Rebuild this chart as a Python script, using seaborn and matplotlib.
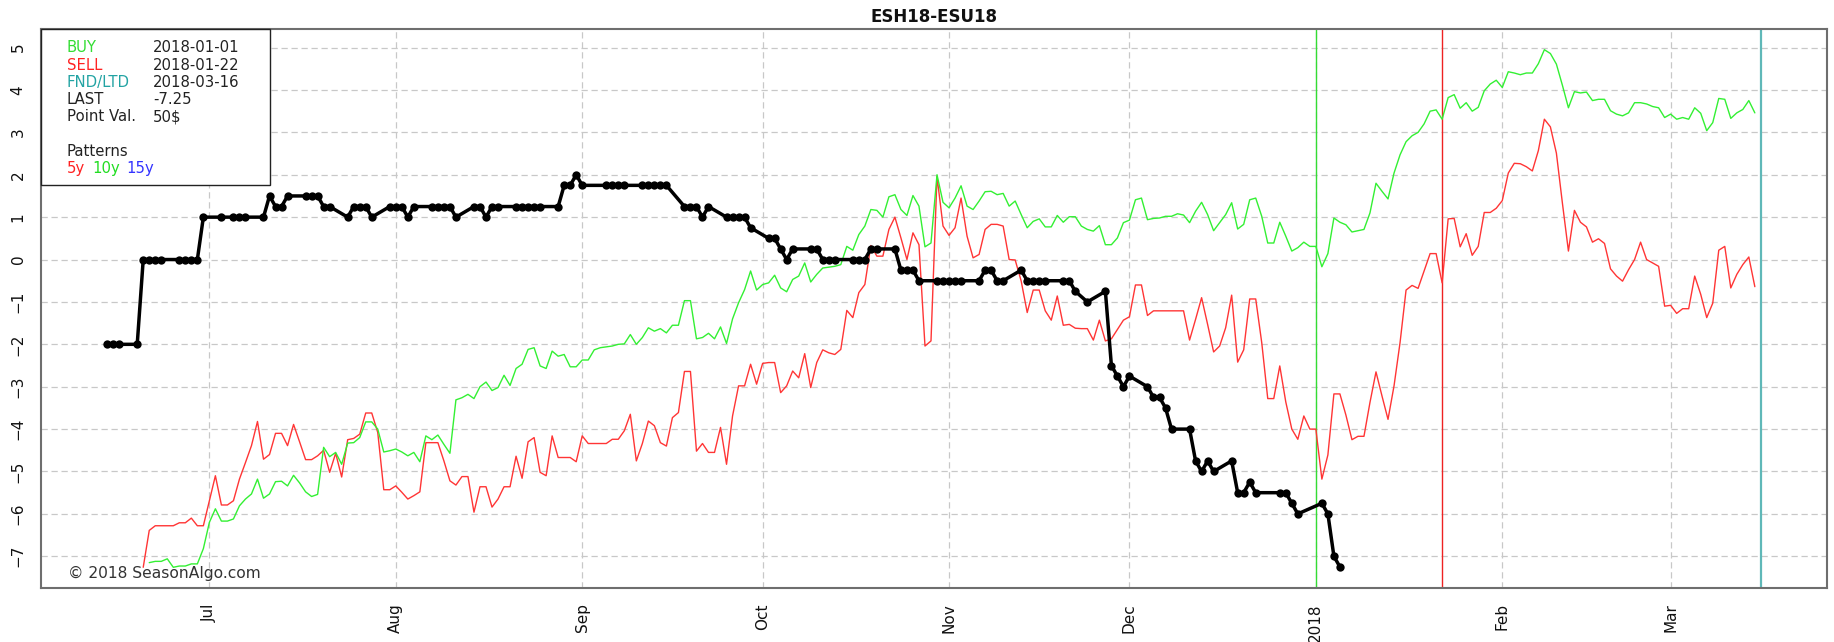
import numpy as np
import pandas as pd
import matplotlib
matplotlib.use("Agg")
import matplotlib.pyplot as plt
import matplotlib.dates as mdates
from matplotlib.patches import Rectangle
import seaborn as sns

# --- data ---
# actual spread ESH18-ESU18, one value per trading day from 2017-06-14
spread_start = "2017-06-14"
spread_end = "2018-01-05"
holidays = ["2017-07-04", "2017-09-04", "2017-11-23", "2017-12-25", "2018-01-01"]
spread = [
    -2, -2, -2, -2, 0, 0, 0, 0, 0, 0, 0, 0, 1,
    1, 1, 1, 1, 1, 1.5, 1.25, 1.25, 1.5, 1.5, 1.5, 1.5, 1.25, 1.25, 1.0, 1.25, 1.25, 1.25, 1.0, 1.25,
    1.25, 1.25, 1.0, 1.25, 1.25, 1.25, 1.25, 1.25, 1.0, 1.25, 1.25, 1.0, 1.25, 1.25,
    1.25, 1.25, 1.25, 1.25, 1.25, 1.25, 1.75, 1.75, 2.0,
    1.75, 1.75, 1.75, 1.75, 1.75, 1.75, 1.75, 1.75, 1.75, 1.75,
    1.25, 1.25, 1.25, 1.0, 1.25, 1.0, 1.0, 1.0, 1.0, 0.75,
    0.5, 0.5, 0.25, 0.0, 0.25, 0.25, 0.25, 0.0, 0.0, 0.0, 0.0, 0.0, 0.0, 0.25, 0.25,
    0.25, -0.25, -0.25, -0.25, -0.5, -0.5, -0.5,
    -0.5, -0.5, -0.5, -0.5, -0.25, -0.25, -0.5, -0.5, -0.25, -0.5, -0.5, -0.5, -0.5,
    -0.5, -0.5, -0.75, -1.0, -0.75, -2.5, -2.75, -3.0,
    -2.75, -3.0, -3.25, -3.25, -3.5, -4.0, -4.0, -4.75, -5.0, -4.75, -5.0,
    -4.75, -5.5, -5.5, -5.25, -5.5, -5.5, -5.5, -5.75, -6.0,
    -5.75, -6.0, -7.0, -7.25,
]

# 5y seasonal pattern, daily from 2017-06-20
p5_start = "2017-06-20"
pattern_5y = [
    -7.26, -6.39, -6.28, -6.28, -6.28, -6.28, -6.21, -6.21, -6.10, -6.28, -6.28,
    -5.69, -5.10, -5.79, -5.79, -5.69, -5.18, -4.79, -4.39, -3.82, -4.71,
    -4.60, -4.10, -4.10, -4.39, -3.89, -4.30, -4.72, -4.72, -4.63, -4.50,
    -5.02, -4.57, -5.13, -4.25, -4.22, -4.12, -3.62, -3.62, -4.08, -5.43,
    -5.43, -5.34, -5.49, -5.65, -5.57, -5.48, -4.32, -4.32, -4.32, -4.75,
    -5.22, -5.32, -5.12, -5.12, -5.96, -5.36, -5.36, -5.84, -5.65, -5.36,
    -5.36, -4.64, -5.16, -4.30, -4.20, -5.02, -5.10, -4.16, -4.67, -4.67,
    -4.67, -4.77, -4.16, -4.34, -4.34, -4.34, -4.34, -4.24, -4.24, -4.04,
    -3.65, -4.75, -4.34, -3.81, -3.92, -4.32, -4.40, -3.73, -3.61, -2.64,
    -2.64, -4.52, -4.34, -4.55, -4.55, -3.96, -4.83, -3.69, -2.98, -2.98,
    -2.47, -2.94, -2.45, -2.43, -2.43, -3.14, -2.98, -2.63, -2.79, -2.22,
    -3.02, -2.43, -2.13, -2.20, -2.24, -2.12, -1.20, -1.37, -0.78, -0.59,
    0.33, 0.08, 0.08, 0.71, 1.00, 0.51, 0.00, 0.63, 0.35, -2.04,
    -1.92, 1.96, 0.79, 0.57, 0.75, 1.45, 0.55, 0.04, 0.12, 0.71,
    0.83, 0.83, 0.79, 0.00, -0.01, -0.51, -1.25, -0.72, -0.72, -1.21,
    -1.43, -0.86, -1.55, -1.53, -1.62, -1.63, -1.63, -1.90, -1.43, -1.92,
    -1.87, -1.65, -1.43, -1.35, -0.60, -0.60, -1.32, -1.21, -1.21, -1.21,
    -1.21, -1.21, -1.21, -1.90, -1.41, -0.90, -1.53, -2.18, -2.04, -1.61,
    -0.84, -2.42, -2.13, -0.93, -0.93, -1.96, -3.28, -3.28, -2.51, -3.36,
    -4.00, -4.24, -3.69, -4.00, -4.00, -5.18, -4.61, -3.17, -3.17, -3.67,
    -4.25, -4.17, -4.17, -3.37, -2.65, -3.22, -3.77, -2.98, -1.96, -0.72,
    -0.61, -0.68, -0.27, 0.14, 0.14, -0.55, 0.96, 0.97, 0.30, 0.61,
    0.10, 0.31, 1.11, 1.11, 1.21, 1.39, 2.04, 2.27, 2.26, 2.19,
    2.09, 2.57, 3.31, 3.13, 2.51, 1.33, 0.20, 1.16, 0.88, 0.77,
    0.41, 0.49, 0.38, -0.22, -0.39, -0.51, -0.24, 0.00, 0.41, 0.00,
    -0.08, -0.16, -1.10, -1.08, -1.27, -1.16, -1.16, -0.39, -0.82, -1.37,
    -1.03, 0.22, 0.31, -0.67, -0.35, -0.12, 0.06, -0.64,
]

# 10y seasonal pattern, daily from 2017-06-21
p10_start = "2017-06-21"
pattern_10y = [
    -7.15, -7.12, -7.12, -7.06, -7.26, -7.23, -7.23, -7.18, -7.18, -6.82,
    -6.20, -5.88, -6.17, -6.17, -6.12, -5.81, -5.65, -5.53, -5.18, -5.63,
    -5.53, -5.24, -5.23, -5.34, -5.09, -5.27, -5.48, -5.59, -5.54, -4.43,
    -4.65, -4.55, -4.83, -4.33, -4.32, -4.20, -3.83, -3.83, -4.00, -4.54,
    -4.51, -4.47, -4.54, -4.63, -4.55, -4.77, -4.16, -4.25, -4.14, -4.36,
    -4.57, -3.31, -3.26, -3.18, -3.28, -3.00, -2.89, -3.09, -3.02, -2.73,
    -2.97, -2.57, -2.47, -2.12, -2.08, -2.51, -2.57, -2.16, -2.28, -2.24,
    -2.53, -2.53, -2.37, -2.37, -2.13, -2.08, -2.06, -2.04, -2.00, -1.99,
    -1.77, -2.00, -1.84, -1.61, -1.69, -1.63, -1.73, -1.55, -1.55, -0.97,
    -0.97, -1.87, -1.84, -1.74, -1.87, -1.59, -1.98, -1.40, -1.02, -0.71,
    -0.27, -0.72, -0.59, -0.55, -0.37, -0.67, -0.76, -0.47, -0.39, -0.08,
    -0.53, -0.35, -0.20, -0.18, -0.16, -0.12, 0.31, 0.22, 0.59, 0.79,
    1.18, 1.16, 1.00, 1.48, 1.53, 1.18, 1.04, 1.51, 1.26, 0.30,
    0.39, 2.00, 1.35, 1.22, 1.45, 1.74, 1.26, 1.18, 1.38, 1.60,
    1.61, 1.53, 1.56, 1.26, 1.38, 1.06, 0.75, 0.90, 0.96, 0.77,
    0.77, 1.04, 0.88, 1.01, 1.01, 0.79, 0.71, 0.67, 0.80, 0.35,
    0.35, 0.51, 0.87, 0.93, 1.41, 1.45, 0.94, 0.97, 0.98, 1.02,
    1.02, 1.08, 1.05, 0.87, 1.14, 1.35, 1.06, 0.68, 0.87, 1.06,
    1.34, 0.72, 0.83, 1.41, 1.45, 1.02, 0.39, 0.39, 0.88, 0.55,
    0.20, 0.28, 0.41, 0.31, 0.31, -0.17, 0.14, 0.98, 0.88, 0.82,
    0.65, 0.68, 0.71, 1.10, 1.80, 1.61, 1.43, 2.04, 2.47, 2.78,
    2.92, 3.00, 3.20, 3.50, 3.53, 3.31, 3.82, 3.89, 3.57, 3.70,
    3.50, 3.59, 3.98, 4.14, 4.23, 4.06, 4.43, 4.40, 4.36, 4.40,
    4.40, 4.62, 4.95, 4.86, 4.61, 4.11, 3.58, 3.96, 3.93, 3.95,
    3.75, 3.78, 3.78, 3.51, 3.43, 3.39, 3.46, 3.70, 3.70, 3.67,
    3.61, 3.58, 3.35, 3.43, 3.31, 3.35, 3.31, 3.58, 3.45, 3.04,
    3.23, 3.80, 3.78, 3.33, 3.46, 3.54, 3.75, 3.46,
]

buy_date = "2018-01-01"
sell_date = "2018-01-22"
fnd_date = "2018-03-16"
last_value = "-7.25"
point_val = "50$"

month_ticks = ["2017-07-01", "2017-08-01", "2017-09-01", "2017-10-01", "2017-11-01",
               "2017-12-01", "2018-01-01", "2018-02-01", "2018-03-01"]
month_labels = ["Jul", "Aug", "Sep", "Oct", "Nov", "Dec", "2018", "Feb", "Mar"]

# --- build frames ---
spread_dates = pd.bdate_range(spread_start, spread_end, freq="C", holidays=holidays)
df_spread = pd.DataFrame({"date": spread_dates, "value": spread})
df_5y = pd.DataFrame({"date": pd.date_range(p5_start, periods=len(pattern_5y), freq="D"),
                      "value": pattern_5y})
df_10y = pd.DataFrame({"date": pd.date_range(p10_start, periods=len(pattern_10y), freq="D"),
                       "value": pattern_10y})

sns.set_theme(style="white")
plt.rcParams["font.family"] = ["DejaVu Sans"]

W, H = 1834, 642
fig = plt.figure(figsize=(W / 100, H / 100), dpi=100)
ax = fig.add_axes([41 / W, 1 - 588 / H, (1827 - 41) / W, (588 - 29) / H])

GREEN = "#33f033"
RED = "#ff3535"
TEAL = "#5fb8b8"

sns.lineplot(data=df_5y, x="date", y="value", color=RED, linewidth=1.0,
             estimator=None, ax=ax, zorder=3)
sns.lineplot(data=df_10y, x="date", y="value", color=GREEN, linewidth=1.0,
             estimator=None, ax=ax, zorder=3)
sns.lineplot(data=df_spread, x="date", y="value", color="black", linewidth=2.5,
             marker="o", markersize=6, markeredgewidth=0, estimator=None, ax=ax, zorder=5)

ax.axvline(pd.Timestamp(buy_date), color="#33dd33", linewidth=1.0, zorder=2)
ax.axvline(pd.Timestamp(sell_date), color="#ee2222", linewidth=1.0, zorder=2)
ax.axvline(pd.Timestamp(fnd_date), color=TEAL, linewidth=1.6, zorder=2)

# R-style 4% padding
x0 = df_spread["date"].min()
x1 = pd.Timestamp(fnd_date)
xpad = (x1 - x0) * 0.04
ax.set_xlim(x0 - xpad, x1 + xpad)
allv = np.concatenate([spread, pattern_5y, pattern_10y])
ypad = (allv.max() - allv.min()) * 0.04
ax.set_ylim(allv.min() - ypad, allv.max() + ypad)

ax.set_xticks(mdates.date2num(pd.to_datetime(month_ticks)))
ax.set_xticklabels(month_labels)
ax.set_yticks(range(-7, 6))
ax.set_yticklabels([str(v) if v >= 0 else "\u2212" + str(-v) for v in range(-7, 6)])
ax.set_xlabel("")
ax.set_ylabel("")

ax.tick_params(axis="both", length=0, labelsize=11, colors="#111111")
ax.tick_params(axis="x", pad=11, labelrotation=90)
ax.tick_params(axis="y", pad=11, labelrotation=90)
for lab in ax.get_yticklabels():
    lab.set_va("center")

ax.grid(True, color="#c8c8c8", linestyle=(0, (5, 3)), linewidth=0.9)
ax.set_axisbelow(True)
for sp in ax.spines.values():
    sp.set_color("#6e6e6e")
    sp.set_linewidth(1.5)

# info box in the top-left corner
box_w = (270 - 41) / (1827 - 41)
box_h = (185 - 29) / (588 - 29)
ax.add_patch(Rectangle((0, 1 - box_h), box_w, box_h, transform=ax.transAxes,
                       facecolor="white", edgecolor="#222222", linewidth=1.0,
                       zorder=10, clip_on=False))


def ftext(x, y, s, color="#222222", size=10.7, **kw):
    fig.text(x / W, 1 - y / H, s, color=color, fontsize=size, va="center", ha="left", **kw)


rows = [("BUY", "#33dd33", buy_date), ("SELL", "#ff2222", sell_date),
        ("FND/LTD", "#22a3a3", fnd_date), ("LAST", "#222222", last_value),
        ("Point Val.", "#222222", point_val)]
for i, (lab, col, val) in enumerate(rows):
    y = 48 + i * 17.2
    ftext(67, y, lab, color=col)
    ftext(153, y, val)
ftext(67, 151, "Patterns")
ftext(67, 168, "5y", color="#ff2222")
ftext(92, 168, "10y", color="#22dd22")
ftext(126, 168, "15y", color="#3333ff")

ftext(68, 573, "\u00a9 2018 SeasonAlgo.com", color="#333333", size=11.2)

fig.text(934 / W, 1 - 16.5 / H, "ESH18-ESU18", ha="center", va="center",
         fontsize=12, fontweight="bold", color="#111111")

fig.savefig("out.png", dpi=100, facecolor="white")
